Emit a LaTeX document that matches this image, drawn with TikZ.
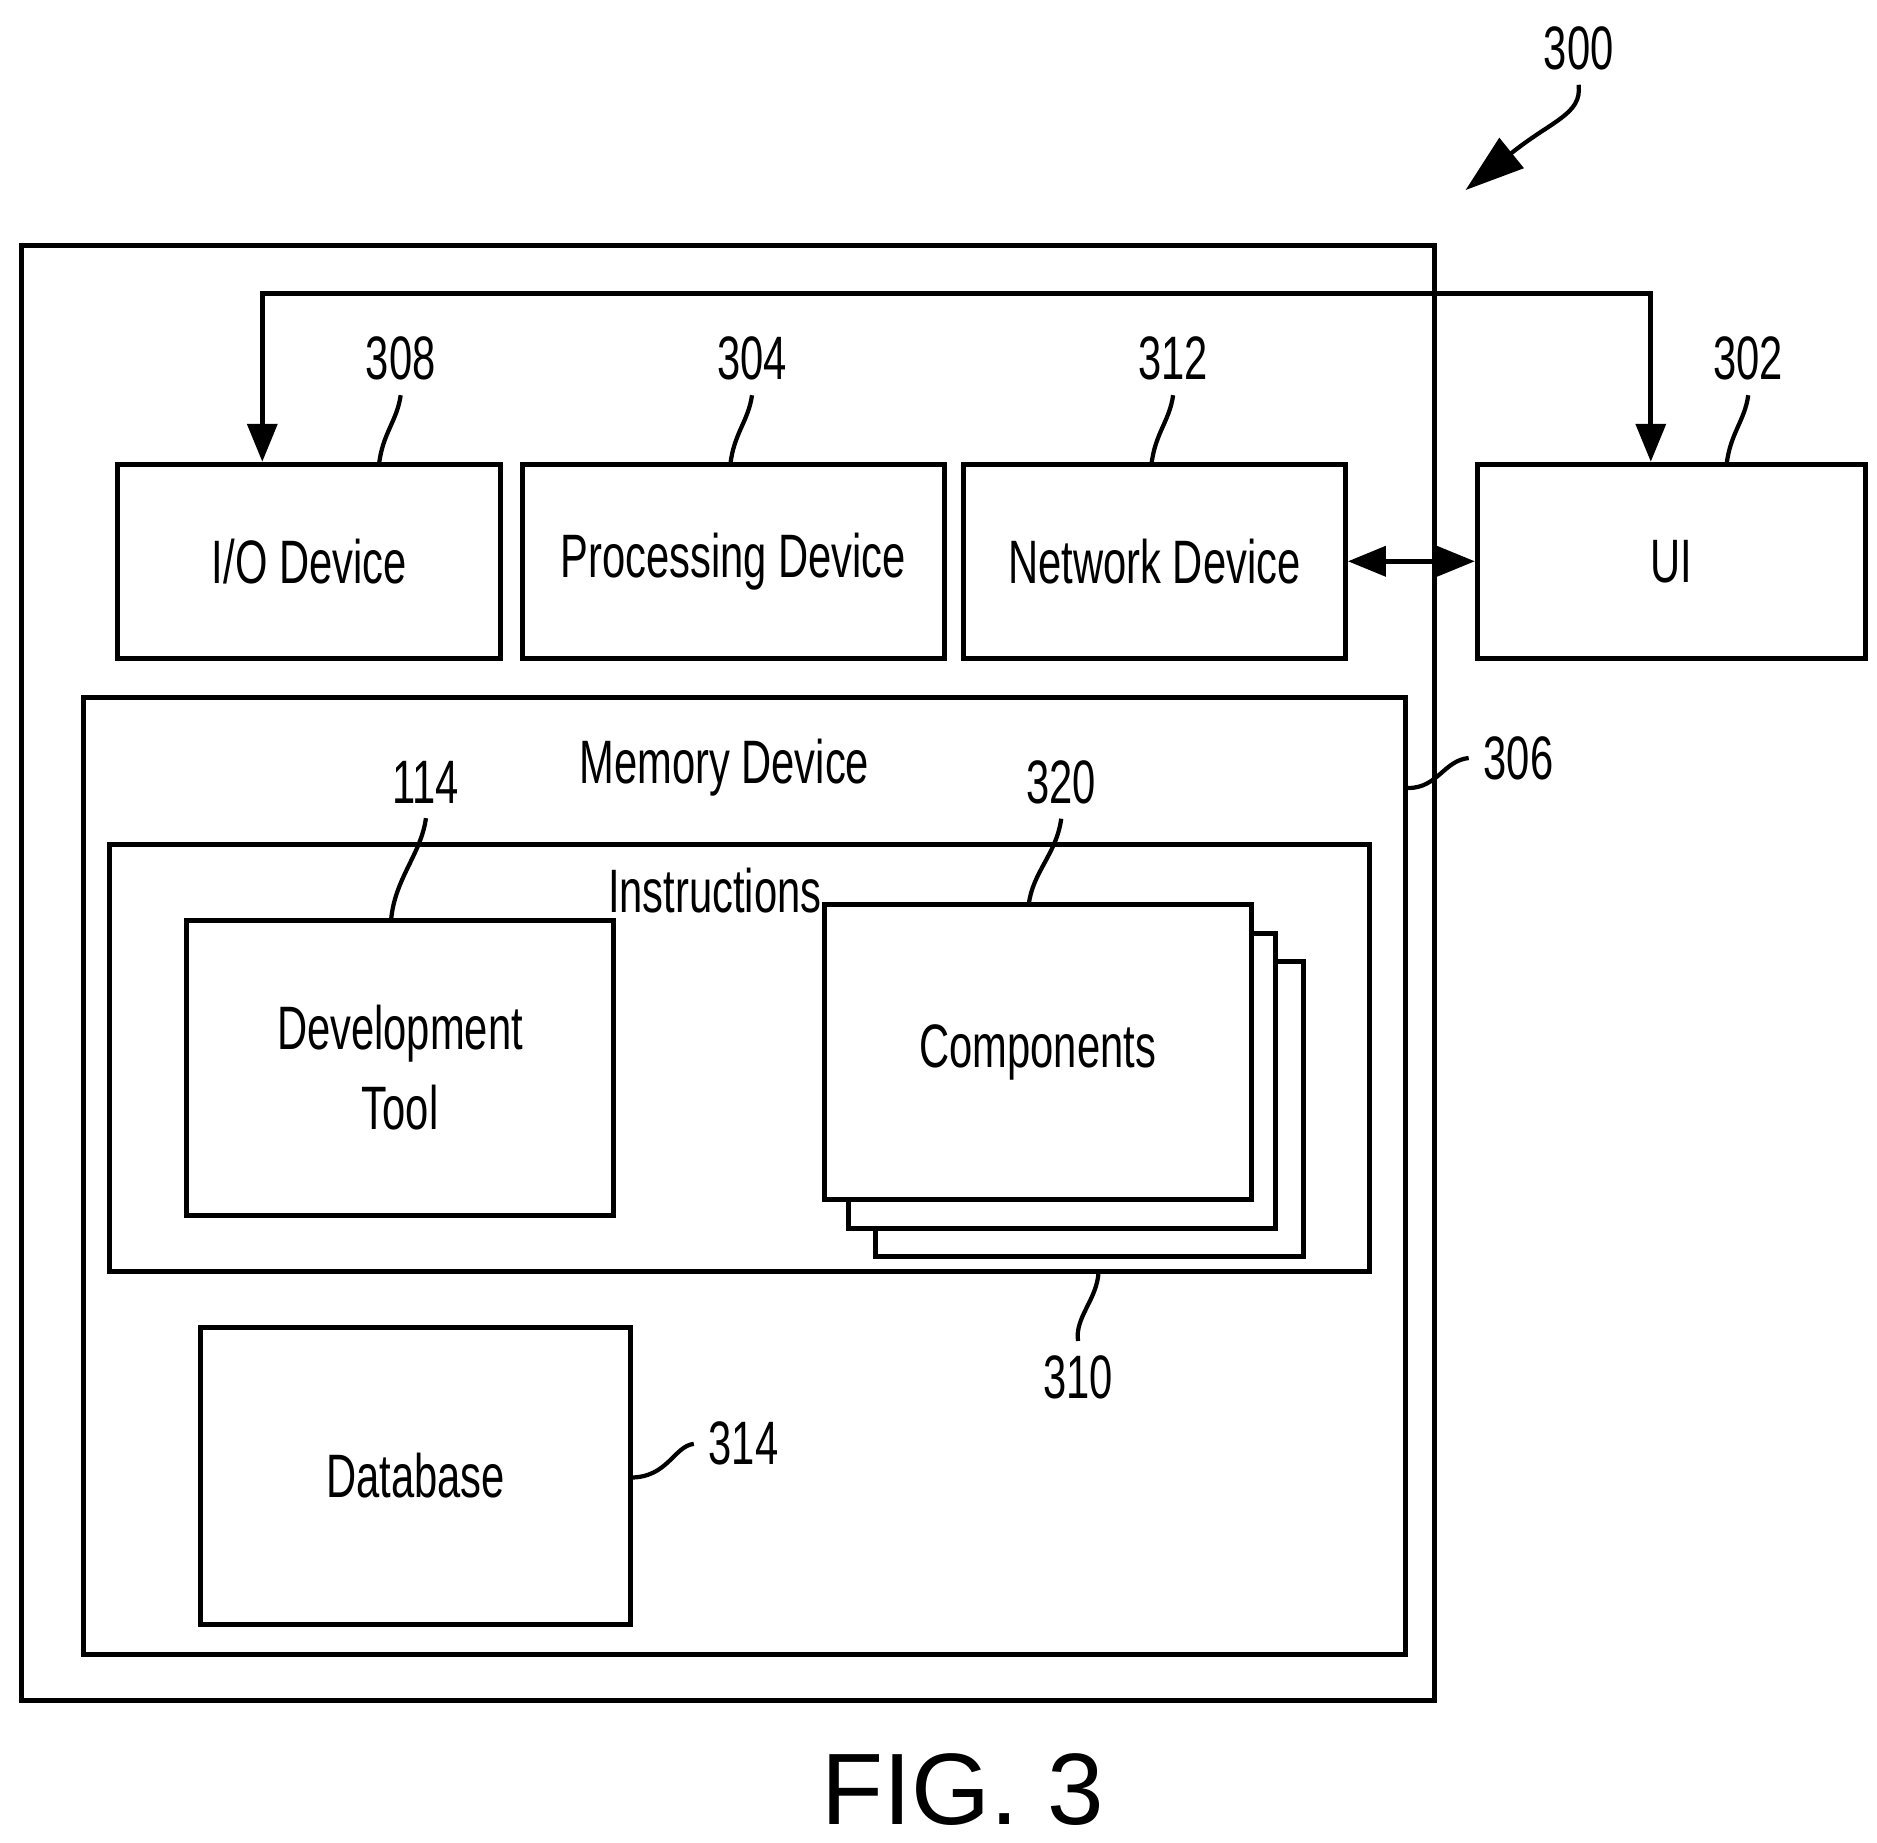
\documentclass[tikz,border=0pt]{standalone}
\usepackage{fontspec}
\setmainfont{Liberation Sans}[FakeStretch=0.68]
\newfontfamily\figfont{Liberation Sans}
\usetikzlibrary{arrows.meta,positioning}
\begin{document}
\begin{tikzpicture}[x=0.01cm,y=-0.01cm]
\tikzset{
box/.style={draw, line width=1.2pt, rectangle, inner sep=0pt, font=\fontsize{14.5}{19}\selectfont, align=center},
num/.style={font=\fontsize{14.5}{19}\selectfont},
leader/.style={line width=1pt},
flow/.style={line width=1.2pt, -{Triangle[length=9pt,width=7pt]}},
}
\useasboundingbox (0,0) rectangle (1560,1531);
% outer box and memory
\draw[line width=1.2pt] (18,204) rectangle (1192,1413);
\node[box, minimum width=10.98cm, minimum height=7.95cm] (mem) at (619,977.5) {};
\node[num] (memtxt) at (602,638) {Memory Device};
\node[box, minimum width=10.47cm, minimum height=3.55cm] (instr) at (614.5,879.5) {};
\node[num] (instrtxt) at (594,740) {Instructions};
% devices
\node[box, minimum width=3.18cm, minimum height=1.61cm] (io) at (257,466.5) {I/O Device};
\node[box, minimum width=3.51cm, minimum height=1.61cm] (proc) at (609.5,466.5) {Processing Device};
\node[box, minimum width=3.17cm, minimum height=1.61cm] (net) at (959.5,466.5) {Network Device};
\node[box, minimum width=3.22cm, minimum height=1.61cm] (ui) at (1389,466.5) {UI};
% inner boxes
\node[box, minimum width=3.55cm, minimum height=2.45cm] (dev) at (332.5,887.5) {Development\\Tool};
\node[box, minimum width=3.55cm, minimum height=2.45cm] (comp3) at (905.5,921.5) {};
\node[box, fill=white, minimum width=3.55cm, minimum height=2.45cm] (comp2) at (882.5,898.5) {};
\node[box, fill=white, minimum width=3.55cm, minimum height=2.45cm] (comp) at (862.5,874.5) {Components};
\node[box, minimum width=3.57cm, minimum height=2.47cm] (db) at (345.5,1226.5) {Database};
% connectors
\coordinate (busl) at (218,244);
\coordinate (busr) at (1372,244);
\draw[flow] (busr) -- (busl) -- (io.north -| busl);
\draw[flow] (busl) -- (busr) -- (ui.north -| busr);
\draw[line width=1.2pt, {Triangle[length=9pt,width=7pt]}-{Triangle[length=9pt,width=7pt]}] (net.east) -- (ui.west);
% reference numerals
\node[num] (n300) at (1312,40) {300};
\node[num] (n308) at (333,298) {308};
\node[num] (n304) at (625,298) {304};
\node[num] (n312) at (975,298) {312};
\node[num] (n302) at (1453,298) {302};
\node[num] (n306) at (1262,630) {306};
\node[num] (n114) at (354,650) {114};
\node[num] (n320) at (882,650) {320};
\node[num] (n310) at (896,1145) {310};
\node[num] (n314) at (618,1200) {314};
\draw[leader] (n308.south) .. controls (330,350) and (318,360) .. (315,386);
\draw[leader] (n304.south) .. controls (622,350) and (610,360) .. (607,386);
\draw[leader] (n312.south) .. controls (972,350) and (960,360) .. (957,386);
\draw[leader] (n302.south) .. controls (1450,350) and (1438,360) .. (1435,386);
\draw[leader] (n114.south) .. controls (350,710) and (328,730) .. (325,765);
\draw[leader] (n320.south) .. controls (878,710) and (858,725) .. (855,752);
\draw[leader] (n310.north) .. controls (893,1095) and (912,1080) .. (913,1057);
\draw[leader] (n306.west) .. controls (1200,632) and (1195,655) .. (1170,655);
\draw[leader] (n314.west) .. controls (560,1202) and (555,1228) .. (524,1228);
\draw[leader, -{Triangle[length=14pt,width=9pt]}] (n300.south) .. controls (1315,95) and (1290,100) .. (1218,158);
\node[font=\figfont\fontsize{24}{28}\selectfont] (fig) at (800,1487) {FIG. 3};
\end{tikzpicture}
\end{document}
